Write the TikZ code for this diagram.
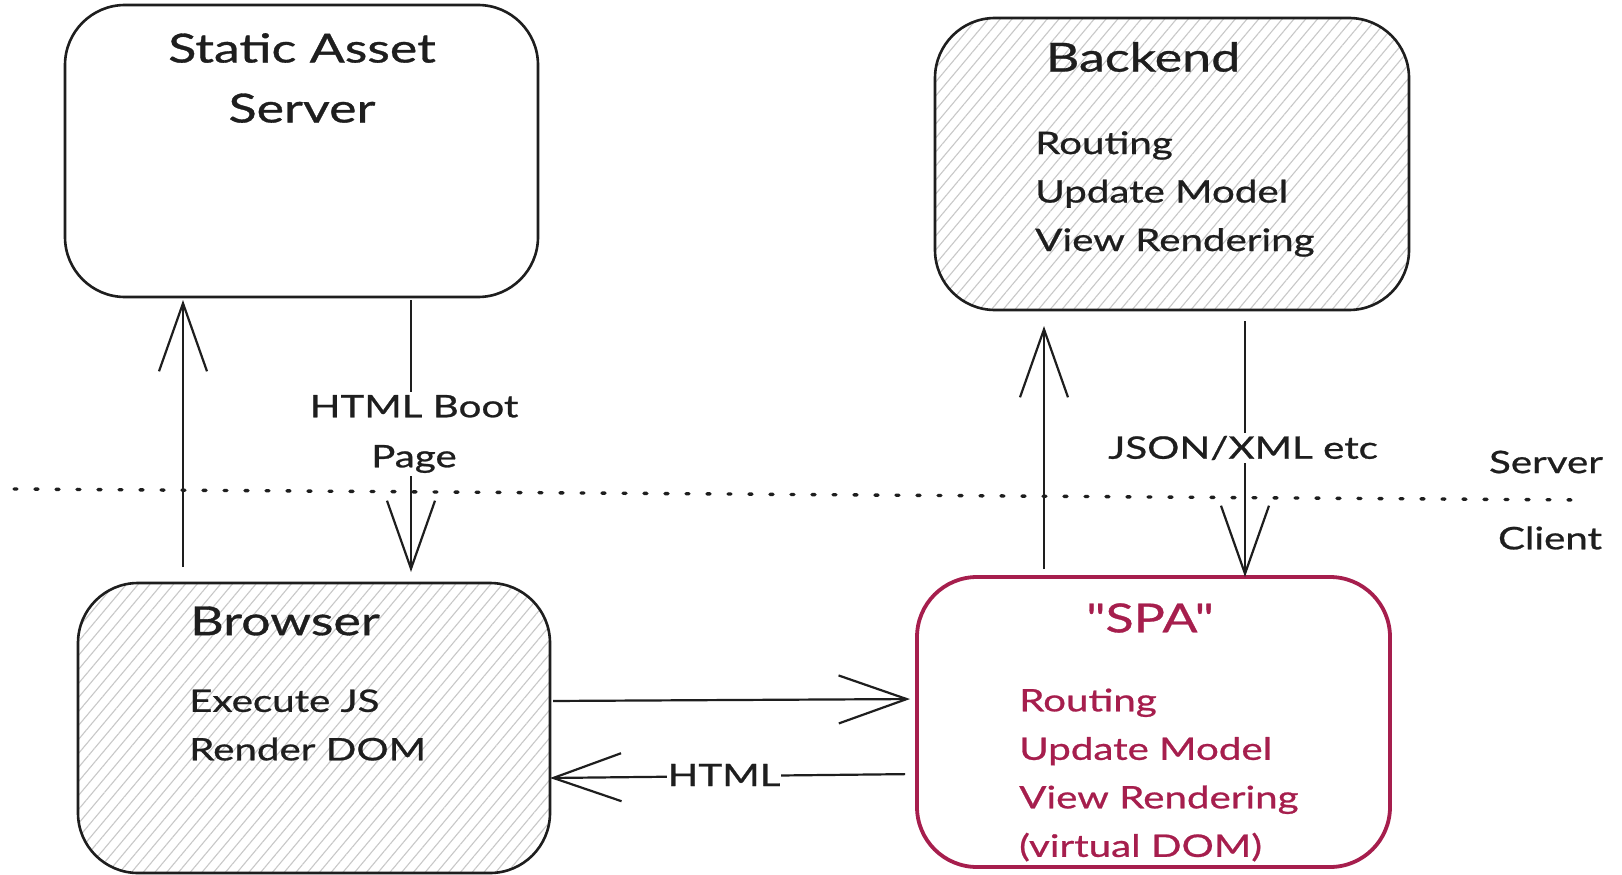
\documentclass[tikz,border=0pt]{standalone}
\usepackage{fontspec}
\newfontfamily\hand{Lato}[FakeStretch=1.3, FakeBold=0.8]
\usetikzlibrary{arrows.meta,patterns.meta,calc}
\definecolor{ink}{HTML}{1E1E1E}
\definecolor{hatchc}{HTML}{C8C8C8}
\definecolor{spac}{HTML}{A61E4D}
\begin{document}
\begin{tikzpicture}[x=1pt,y=-1pt,
  box/.style={draw=ink, line width=2.6pt, rounded corners=60pt, anchor=north west, inner sep=0pt, outer sep=0pt},
  hatched/.style={pattern={Lines[angle=50,distance=9pt,line width=1.1pt]}, pattern color=hatchc},
  ttl/.style={font=\hand\fontsize{40}{60}\selectfont, text=ink, align=center, inner sep=1pt},
  body/.style={font=\hand\fontsize{31}{48.5}\selectfont, text=ink, align=left, anchor=west, inner sep=0pt},
  side/.style={font=\hand\fontsize{31}{48.5}\selectfont, text=ink, inner sep=0pt},
  lbl/.style={font=\hand\fontsize{31}{50}\selectfont, text=ink, align=center, fill=white, inner sep=3pt},
  arr/.style={draw=ink, line width=2.2pt, -{Straight Barb[length=68pt,width=48pt,line width=2.2pt]}},
]
\useasboundingbox (0,0) rectangle (1622,875);
\fill[white] (0,0) rectangle (1622,875);

% boxes
\node[box, minimum width=473pt, minimum height=292pt] (static) at (65,5) {};
\node[box, hatched, minimum width=474pt, minimum height=292pt] (backend) at (935,18) {};
\node[box, hatched, minimum width=472pt, minimum height=290pt] (browser) at (78,583) {};
\node[box, draw=spac, line width=3.8pt, minimum width=473pt, minimum height=290pt] (spa) at (917,577) {};

% server / client divider
\coordinate (dl) at (14,489);
\coordinate (dr) at (1580,500);
\draw[ink, line width=3.4pt, line cap=round, dash pattern=on 3pt off 18pt] (dl) -- (dr);

% connectors
\draw[arr, shorten <=16pt, shorten >=3pt] ($(browser.north)+(-131,0)$) -- ($(static.south)+(-118.5,0)$);
\draw[arr, shorten <=3pt, shorten >=11pt] ($(static.south)+(109.5,0)$) -- ($(browser.north)+(97,0)$);
\draw[arr, shorten <=8pt, shorten >=16pt] ($(spa.north)+(-109.5,0)$) -- ($(backend.south)+(-128,0)$);
\draw[arr, shorten <=11pt, shorten >=0pt] ($(backend.south)+(73,0)$) -- ($(spa.north)+(91.5,0)$);
\draw[arr, shorten <=3pt, shorten >=7pt] ($(browser.east)+(0,-27)$) -- ($(spa.west)+(0,-23)$);
\draw[arr, shorten <=12pt, shorten >=0pt] ($(spa.west)+(0,52)$) -- ($(browser.east)+(0,50)$);

% labels
\node[lbl] (bootlbl) at (414,434) {HTML Boot\\Page};
\node[lbl] (jsonlbl) at (1243,448) {JSON/XML etc};
\node[lbl, inner sep=1pt] (htmllbl) at (724,775) {HTML};
\node[side] (serverlbl) at (1546,462) {Server};
\node[side] (clientlbl) at (1550,538) {Client};

% texts
\node[ttl] (statict) at (302,78) {Static Asset\\Server};
\node[ttl] (backendt) at (1143,57) {Backend};
\node[ttl] (browsert) at (285,621) {Browser};
\node[ttl, text=spac] (spat) at (1150,618) {"SPA"};
\node[body] (backendb) at (1035,194) {Routing\\Update Model\\View Rendering};
\node[body] (browserb) at (189,725) {Execute JS\\Render DOM};
\node[body, text=spac] (spab) at (1019,775) {Routing\\Update Model\\View Rendering\\(virtual DOM)};
\end{tikzpicture}
\end{document}
